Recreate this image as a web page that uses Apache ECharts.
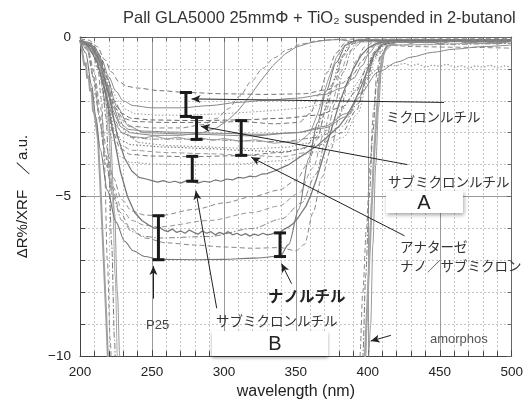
<!DOCTYPE html>
<html>
<head>
<meta charset="utf-8">
<script src="https://cdn.jsdelivr.net/npm/echarts@6/dist/echarts.min.js"></script>
<style>
  html, body { margin: 0; padding: 0; background: #fff; }
  #chart { width: 526px; height: 405px; }
</style>
</head>
<body>
<div id="chart"></div>
<script>
// Reflectance-difference spectra, each point is [wavelength nm, ΔR%/XRF]

// micron rutile
const microRutile1 = [[200,-0.05],[206,-0.1],[212,-0.3],[217,-0.7],[222,-1.1],[227,-1.4],[233,-1.55],[240,-1.6],[255,-1.68],[275,-1.74],[300,-1.78],[330,-1.8],[355,-1.78],[372,-1.65],[382,-1.45],[390,-1.15],[396,-0.75],[401,-0.4],[406,-0.2],[415,-0.1],[450,-0.08],[500,-0.1]];
const microRutile2 = [[200,-0.1],[205,-0.15],[210,-0.3],[215,-0.7],[220,-1.25],[225,-1.7],[230,-2.0],[237,-2.15],[250,-2.22],[270,-2.22],[290,-2.15],[310,-2.05],[330,-1.98],[350,-1.92],[370,-1.8],[382,-1.6],[390,-1.3],[396,-0.9],[401,-0.5],[406,-0.25],[412,-0.15],[420,-0.1],[440,-0.18],[460,-0.12],[480,-0.2],[500,-0.14]];
const microRutile3 = [[200,-0.12],[207,-0.25],[213,-0.6],[219,-1.3],[225,-1.9],[231,-2.25],[238,-2.4],[255,-2.45],[275,-2.45],[300,-2.4],[330,-2.32],[355,-2.22],[375,-2.05],[388,-1.75],[396,-1.2],[402,-0.65],[407,-0.3],[414,-0.15],[420,-0.08],[430,-0.2],[440,-0.1],[450,-0.22],[460,-0.1],[470,-0.2],[480,-0.12],[490,-0.22],[500,-0.12]];

// submicron rutile A
const subRutileA1 = [[200,-0.1],[208,-0.2],[214,-0.6],[219,-1.3],[224,-2.0],[229,-2.4],[236,-2.55],[250,-2.6],[281,-2.62],[310,-2.6],[340,-2.55],[365,-2.45],[382,-2.2],[392,-1.7],[399,-1.0],[405,-0.45],[410,-0.2],[420,-0.1],[500,-0.1]];
const subRutileA2 = [[200,-0.1],[207,-0.2],[213,-0.6],[218,-1.4],[223,-2.2],[228,-2.7],[234,-2.9],[245,-2.95],[265,-2.98],[281,-3.0],[300,-3.02],[325,-3.05],[350,-3.0],[370,-2.85],[385,-2.5],[394,-1.9],[400,-1.1],[405,-0.5],[410,-0.22],[420,-0.12],[500,-0.1]];
const subRutileA3 = [[200,-0.15],[208,-0.3],[214,-0.8],[219,-1.7],[224,-2.6],[229,-3.0],[236,-3.15],[250,-3.2],[281,-3.2],[310,-3.25],[340,-3.28],[365,-3.15],[382,-2.8],[393,-2.1],[400,-1.2],[405,-0.55],[411,-0.22],[420,-0.12],[500,-0.1]];

// nano particles with an early edge
const nanoEdge1 = [[200,-0.1],[207,-0.2],[213,-0.7],[218,-1.5],[223,-2.3],[228,-2.8],[235,-3.0],[250,-3.08],[270,-3.08],[285,-3.0],[295,-2.85],[303,-2.6],[310,-2.3],[318,-1.85],[326,-1.35],[334,-0.9],[342,-0.55],[350,-0.32],[360,-0.18],[370,-0.1],[380,-0.08],[390,-0.15],[400,-0.05],[410,-0.18],[420,-0.08],[430,-0.2],[440,-0.1],[450,-0.22],[460,-0.1],[470,-0.2],[480,-0.12],[490,-0.22],[500,-0.12]];
const nanoEdge2 = [[200,-0.08],[208,-0.2],[214,-0.7],[219,-1.5],[224,-2.2],[229,-2.6],[236,-2.8],[250,-2.85],[270,-2.85],[285,-2.75],[295,-2.55],[303,-2.25],[311,-1.85],[319,-1.4],[327,-0.98],[335,-0.65],[344,-0.4],[354,-0.22],[365,-0.12],[380,-0.07],[500,-0.05]];

// anatase nano / submicron
const anatase1 = [[200,-0.1],[208,-0.25],[214,-0.7],[219,-1.5],[224,-2.2],[230,-2.55],[238,-2.65],[260,-2.68],[290,-2.68],[312,-2.65],[335,-2.72],[352,-2.68],[360,-2.4],[366,-1.8],[372,-1.1],[378,-0.5],[384,-0.2],[392,-0.1],[500,-0.08]];
const anatase2 = [[200,-0.12],[208,-0.3],[214,-0.9],[219,-1.9],[224,-2.7],[229,-3.0],[236,-3.12],[245,-3.16],[252,-3.1],[260,-3.2],[268,-3.14],[276,-3.22],[284,-3.16],[292,-3.24],[300,-3.18],[312,-3.27],[322,-3.22],[335,-3.33],[345,-3.28],[352,-3.3],[360,-3.0],[366,-2.3],[372,-1.4],[378,-0.65],[384,-0.25],[392,-0.1],[500,-0.08]];
const anatase3 = [[200,-0.1],[208,-0.3],[214,-0.9],[219,-2.0],[224,-2.9],[229,-3.25],[236,-3.38],[260,-3.45],[290,-3.5],[312,-3.55],[340,-3.6],[356,-3.5],[363,-3.1],[369,-2.4],[375,-1.5],[381,-0.7],[387,-0.25],[395,-0.1],[500,-0.08]];
const anatase4 = [[200,-0.15],[208,-0.35],[214,-1.0],[219,-2.1],[224,-3.0],[229,-3.4],[236,-3.55],[260,-3.62],[290,-3.66],[312,-3.7],[340,-3.75],[358,-3.62],[365,-3.1],[371,-2.3],[377,-1.4],[383,-0.6],[389,-0.2],[398,-0.1],[500,-0.08]];

// submicron rutile B
const subRutileB1 = [[200,-0.1],[207,-0.3],[213,-1.0],[218,-2.1],[223,-3.0],[228,-3.5],[235,-3.68],[250,-3.73],[278,-3.75],[310,-3.72],[340,-3.62],[365,-3.4],[382,-3.0],[392,-2.3],[399,-1.4],[404,-0.7],[409,-0.3],[416,-0.15],[500,-0.12]];
const subRutileB2 = [[200,-0.12],[207,-0.3],[213,-1.1],[218,-2.3],[223,-3.25],[228,-3.75],[235,-3.93],[250,-3.98],[278,-4.0],[310,-3.98],[340,-3.88],[365,-3.6],[383,-3.15],[393,-2.4],[400,-1.4],[405,-0.7],[410,-0.3],[418,-0.15],[500,-0.12]];
const subRutileB3 = [[200,-0.1],[208,-0.3],[215,-0.9],[221,-2.0],[226,-3.1],[231,-3.8],[236,-4.2],[241,-4.4],[246,-4.45],[250,-4.5],[254,-4.55],[258,-4.5],[262,-4.56],[266,-4.52],[270,-4.58],[274,-4.5],[278,-4.53],[282,-4.58],[286,-4.52],[290,-4.55],[294,-4.48],[298,-4.52],[302,-4.45],[306,-4.48],[310,-4.4],[314,-4.42],[318,-4.36],[322,-4.38],[326,-4.3],[330,-4.28],[335,-4.2],[340,-4.1],[345,-4.0],[350,-3.85],[355,-3.7],[360,-3.55],[365,-3.4],[370,-3.2],[375,-3.0],[380,-2.8],[385,-2.5],[390,-2.1],[395,-1.6],[400,-1.0],[405,-0.5],[410,-0.25],[420,-0.15],[500,-0.12]];

// P25
const p25a = [[200,-0.1],[205,-0.3],[210,-1.1],[214,-2.2],[218,-3.4],[223,-4.4],[229,-5.1],[236,-5.45],[245,-5.58],[255,-5.6],[280,-5.4],[300,-5.2],[320,-5.0],[338,-4.8],[350,-4.5],[358,-4.0],[365,-3.2],[371,-2.2],[377,-1.3],[383,-0.55],[390,-0.2],[400,-0.1],[500,-0.08]];
const p25b = [[200,-0.1],[205,-0.35],[210,-1.3],[214,-2.5],[218,-3.7],[223,-4.7],[229,-5.4],[236,-5.75],[245,-5.9],[255,-5.95],[290,-5.75],[320,-5.5],[338,-5.3],[352,-4.9],[362,-4.1],[369,-3.1],[375,-2.1],[381,-1.1],[387,-0.45],[394,-0.15],[500,-0.1]];
const p25c = [[200,-0.1],[205,-0.4],[210,-1.4],[214,-2.7],[218,-4.0],[223,-5.0],[229,-5.75],[236,-6.1],[245,-6.25],[255,-6.3],[290,-6.25],[320,-6.0],[340,-5.7],[354,-5.2],[364,-4.3],[371,-3.2],[377,-2.1],[383,-1.1],[389,-0.4],[396,-0.15],[500,-0.1]];
const p25d = [[200,-0.1],[204,-0.5],[208,-1.5],[211,-2.5],[214,-3.5],[219,-4.8],[225,-5.8],[231,-6.4],[237,-6.7],[245,-6.88],[255,-6.97],[280,-6.98],[300,-6.97],[320,-6.93],[339,-6.87],[345,-6.5],[352,-5.4],[359,-3.8],[365,-2.7],[371,-1.7],[378,-0.8],[385,-0.25],[392,-0.1],[500,-0.1]];

// nano rutile
const nanoRutile1 = [[200,-0.1],[206,-0.3],[212,-0.8],[218,-1.8],[223,-3.0],[228,-4.2],[233,-5.0],[238,-5.5],[243,-5.75],[248,-5.9],[252,-6.0],[255,-5.95],[258,-6.05],[261,-6.1],[264,-6.02],[267,-6.12],[270,-6.08],[273,-6.15],[276,-6.05],[279,-6.12],[282,-6.18],[285,-6.08],[288,-6.15],[291,-6.1],[294,-6.2],[297,-6.12],[300,-6.18],[303,-6.1],[306,-6.2],[309,-6.15],[312,-6.22],[315,-6.16],[318,-6.24],[321,-6.18],[324,-6.22],[327,-6.15],[330,-6.2],[333,-6.18],[336,-6.12],[339,-6.12],[342,-6.02],[345,-5.95],[348,-5.85],[351,-5.7],[354,-5.5],[357,-5.3],[360,-5.0],[364,-4.5],[368,-3.9],[372,-3.3],[376,-2.7],[380,-2.1],[385,-1.5],[390,-1.0],[395,-0.6],[400,-0.35],[406,-0.2],[415,-0.12],[500,-0.1]];
const nanoRutile2 = [[200,-0.1],[205,-0.4],[209,-1.2],[213,-2.4],[217,-3.6],[222,-4.7],[228,-5.5],[235,-6.0],[245,-6.3],[260,-6.45],[280,-6.52],[300,-6.58],[320,-6.62],[339,-6.6],[350,-6.7],[356,-6.5],[362,-5.5],[368,-4.4],[374.5,-3.5],[380,-2.5],[386,-1.5],[392,-0.75],[398,-0.3],[405,-0.15],[500,-0.1]];

// slow, long-wavelength tails
const tailSolid = [[200,-0.1],[210,-0.4],[218,-1.2],[226,-2.2],[234,-2.8],[245,-3.0],[280,-3.05],[320,-3.1],[350,-3.0],[370,-2.8],[385,-2.4],[395,-1.75],[407,-1.1],[421,-0.78],[430,-0.63],[445,-0.48],[460,-0.38],[480,-0.3],[500,-0.25]];
const tailDotted = [[200,-0.2],[210,-0.5],[218,-1.3],[225,-2.3],[232,-3.0],[240,-3.3],[260,-3.4],[290,-3.45],[320,-3.5],[345,-3.45],[360,-3.3],[370,-3.0],[378,-2.6],[385,-2.1],[390,-1.75],[395,-1.45],[400,-1.25],[405,-1.05],[410,-0.95],[415,-0.88],[420,-0.9],[425,-0.82],[430,-0.9],[435,-0.85],[440,-0.95],[445,-0.88],[450,-0.92],[455,-0.85],[460,-0.95],[465,-0.9],[470,-0.98],[475,-0.9],[480,-0.95],[485,-0.88],[490,-0.97],[495,-0.9],[500,-0.95]];

// strongly absorbing samples (run past the bottom of the scale)
const deep1 = [[200,-0.1],[201,-0.3],[202,-0.35],[203,-0.9],[204,-0.8],[205,-1.3],[206,-1.2],[207,-1.7],[208,-1.6],[209,-2.3],[210,-2.4],[211,-2.7],[212.5,-3.2],[214,-4.5],[216,-6.5],[218,-8.5],[219.5,-10.2],[221,-12],[230,-14],[390,-14],[396,-12],[398,-10],[400,-8],[402,-6],[404,-4],[406,-2.5],[408,-1.3],[410,-0.6],[413,-0.3],[420,-0.15],[500,-0.12]];
const deep2 = [[200,-0.1],[208,-0.3],[212,-0.8],[215,-2],[217,-4],[219,-7],[221,-9.5],[222.5,-11],[230,-14],[388,-14],[393,-12],[394.5,-10],[396.5,-8],[399,-6],[401.5,-4],[404,-2.3],[406.5,-1.0],[409,-0.45],[415,-0.25],[430,-0.3],[460,-0.32],[500,-0.35]];
const deep3 = [[200,-0.15],[210,-0.5],[215,-1.2],[218,-2.5],[220,-4],[222,-6.5],[224,-9.5],[225.5,-12],[232,-14],[390,-14],[395,-12],[396.5,-10],[398.5,-7.5],[401,-5],[403.5,-3],[406,-1.5],[409,-0.6],[414,-0.25],[500,-0.2]];
const deep4 = [[200,-0.1],[212,-0.6],[217,-1.6],[220,-3],[222.5,-5],[224.5,-7.5],[226,-10],[227.5,-12.5],[235,-14],[390,-14],[397,-12],[398.5,-10],[400.5,-7.5],[402.5,-5.2],[405,-3],[407.5,-1.5],[410,-0.6],[415,-0.25],[500,-0.15]];
const deep5 = [[200,-0.05],[213,-0.5],[218,-1.5],[221,-3],[224,-5.5],[226,-8],[227.6,-10],[229,-12],[235,-14],[392,-14],[399,-12],[400.5,-10],[402,-9],[403.5,-6.5],[405.5,-4],[407.5,-2.2],[409.5,-1.0],[412,-0.4],[420,-0.15],[500,-0.12]];

// spread bars: [wavelength, top, bottom]
const spreadBars = [[273.6,-1.74,-2.49],[281,-2.52,-3.21],[312,-2.62,-3.71],[278,-3.74,-4.52],[254.5,-5.6,-6.98],[339,-6.14,-6.88]];

// leader arrows: [from, to]
const leaders = [
  [[453,-2.05],[277.5,-1.94]],
  [[427.5,-4.0],[284,-2.8]],
  [[425.5,-6.23],[319,-3.77]],
  [[295,-8.5],[280.5,-4.82]],
  [[347,-7.73],[340,-7.1]],
  [[251,-8.2],[251,-7.18]],
  [[416,-9.35],[402,-9.53]]
];

const xTicks = { min: 200, max: 500, step: 50 };
const yTicks = { min: -10, max: 0, step: 5 };

const LAT = '"Liberation Sans", Arial, sans-serif';
const JP = '"Noto Sans CJK JP", "Noto Sans", sans-serif';

const DASH = [5, 3], DOT = [1.5, 2], DASHDOT = [6, 2, 1.5, 2];
const curves = [
  [deep1, '#a0a0a0', 2, 'solid', false],
  [deep2, '#888', 1, DASH, true],
  [deep3, '#777', 1, DASHDOT, true],
  [deep4, '#aaa', 1, 'solid', true],
  [deep5, '#999', 1, 'solid', true],
  [microRutile1, '#777', 1, DASH, true],
  [microRutile2, '#888', 1, 'solid', true],
  [microRutile3, '#999', 1, DOT, false],
  [subRutileA1, '#666', 1, DASH, true],
  [subRutileA2, '#888', 1, 'solid', true],
  [subRutileA3, '#888', 1, DASHDOT, true],
  [nanoEdge1, '#888', 1, 'solid', false],
  [nanoEdge2, '#888', 1, DASH, true],
  [anatase1, '#777', 1, DASH, true],
  [anatase2, '#999', 1, 'solid', false],
  [anatase3, '#666', 1, DOT, true],
  [anatase4, '#999', 1, DASH, true],
  [subRutileB1, '#777', 1, DASH, true],
  [subRutileB2, '#999', 1, DOT, true],
  [subRutileB3, '#777', 1.2, 'solid', false],
  [p25a, '#888', 1, DASH, true],
  [p25b, '#999', 1, DASH, true],
  [p25c, '#888', 1, DASHDOT, true],
  [p25d, '#777', 1.1, 'solid', true],
  [nanoRutile1, '#777', 1.3, 'solid', false],
  [nanoRutile2, '#888', 1, DASH, true],
  [tailSolid, '#888', 1, 'solid', true],
  [tailDotted, '#999', 1.2, DOT, false]
];

const series = curves.map(([data, color, width, type, smooth]) => ({
  type: 'line',
  data: data,
  symbol: 'none',
  smooth: smooth ? 0.3 : false,
  smoothMonotone: 'x',
  silent: true,
  z: 2,
  lineStyle: { color: color, width: width, type: type }
}));

series.push({
  type: 'custom',
  silent: true,
  z: 10,
  clip: false,
  data: spreadBars,
  encode: { x: 0, y: [1, 2] },
  renderItem: function (params, api) {
    const x = api.value(0);
    const a = api.coord([x, api.value(1)]);
    const b = api.coord([x, api.value(2)]);
    const w = 6;
    const st = { stroke: '#1a1a1a', lineWidth: 3 };
    return {
      type: 'group',
      children: [
        { type: 'line', shape: { x1: a[0], y1: a[1], x2: b[0], y2: b[1] }, style: st },
        { type: 'line', shape: { x1: a[0] - w, y1: a[1], x2: a[0] + w, y2: a[1] }, style: st },
        { type: 'line', shape: { x1: b[0] - w, y1: b[1], x2: b[0] + w, y2: b[1] }, style: st }
      ]
    };
  },
  markLine: {
    silent: true,
    symbol: ['none', 'arrow'],
    symbolSize: [6, 9],
    label: { show: false },
    lineStyle: { color: '#222', width: 1, type: 'solid' },
    emphasis: { disabled: true },
    data: leaders.map(l => [{ coord: l[0] }, { coord: l[1] }])
  }
});

const minusFmt = v => (v < 0 ? '\u2212' + (-v) : String(v));

const baseX = {
  type: 'value', min: xTicks.min, max: xTicks.max, interval: xTicks.step
};
const baseY = {
  type: 'value', min: yTicks.min, max: yTicks.max, interval: yTicks.step
};

const txt = (x, y, text, font, fill, align) => ({
  type: 'text', x: x, y: y, z: 100, silent: true,
  style: { text: text, font: font, fill: fill || '#333', align: align || 'left', verticalAlign: 'middle' }
});

const option = {
  animation: false,
  backgroundColor: '#fff',
  grid: { left: 80, right: 11, top: 37, bottom: 47 },
  xAxis: [
    Object.assign({}, baseX, {
      position: 'bottom',
      axisLine: { show: true, onZero: false, lineStyle: { color: '#444', width: 1 } },
      axisTick: { show: true, inside: true, length: 6, lineStyle: { color: '#444' } },
      minorTick: { show: true, splitNumber: 5, length: 5, lineStyle: { color: '#444' } },
      axisLabel: { color: '#222', fontSize: 13.5, fontFamily: LAT, margin: 9 },
      splitLine: { show: true, lineStyle: { color: '#9a9a9a', width: 1 } },
      minorSplitLine: { show: true, lineStyle: { color: '#c4c4c4', width: 1, type: [2, 2] } },
      name: 'wavelength (nm)', nameLocation: 'middle', nameGap: 23,
      nameTextStyle: { color: '#222', fontSize: 16, fontFamily: LAT }
    }),
    Object.assign({}, baseX, {
      position: 'top',
      axisLine: { show: true, onZero: false, lineStyle: { color: '#666', width: 1 } },
      axisTick: { show: true, inside: true, length: 5, lineStyle: { color: '#666' } },
      minorTick: { show: true, splitNumber: 5, length: 4, lineStyle: { color: '#666' } },
      axisLabel: { show: false },
      splitLine: { show: false }
    })
  ],
  yAxis: [
    Object.assign({}, baseY, {
      position: 'left',
      axisLine: { show: true, onZero: false, lineStyle: { color: '#444', width: 1 } },
      axisTick: { show: true, inside: true, length: 6, lineStyle: { color: '#444' } },
      minorTick: { show: true, splitNumber: 5, length: 5, lineStyle: { color: '#444' } },
      axisLabel: { color: '#222', fontSize: 13.5, fontFamily: LAT, margin: 9, formatter: minusFmt },
      splitLine: { show: true, lineStyle: { color: '#9a9a9a', width: 1 } },
      minorSplitLine: { show: true, lineStyle: { color: '#c4c4c4', width: 1, type: [2, 2] } },
      name: '\u0394R%/XRF\u3000\uff0fa.u.', nameLocation: 'middle', nameGap: 50,
      nameTextStyle: { color: '#222', fontSize: 15, fontFamily: LAT }
    }),
    Object.assign({}, baseY, {
      position: 'right',
      axisLine: { show: true, onZero: false, lineStyle: { color: '#666', width: 1 } },
      axisTick: { show: true, inside: true, length: 5, lineStyle: { color: '#666' } },
      minorTick: { show: true, splitNumber: 5, length: 4, lineStyle: { color: '#666' } },
      axisLabel: { show: false },
      splitLine: { show: false }
    })
  ],
  series: series,
  graphic: [
    txt(123, 18, 'Pall GLA5000 25mm\u03a6 + TiO\u2082 suspended in 2-butanol', '16.5px ' + LAT, '#333'),
    txt(386, 117, 'ミクロンルチル', '13.5px ' + JP),
    txt(388, 182, 'サブミクロンルチル', '13.5px ' + JP),
    {
      type: 'rect', z: 99, silent: true,
      shape: { x: 386, y: 191, width: 77, height: 22 },
      style: { fill: '#fff', shadowBlur: 4, shadowColor: 'rgba(0,0,0,0.35)', shadowOffsetX: 1, shadowOffsetY: 2 }
    },
    txt(424, 203, 'A', '20px ' + LAT, '#222', 'center'),
    txt(400, 247, 'アナターゼ', '13.5px ' + JP),
    txt(400, 266, 'ナノ／サブミクロン', '13.5px ' + JP),
    txt(268, 296, 'ナノルチル', 'bold 15.5px ' + JP, '#222'),
    txt(146, 325, 'P25', '13px ' + LAT, '#444'),
    txt(216, 321, 'サブミクロンルチル', '13.5px ' + JP),
    {
      type: 'rect', z: 99, silent: true,
      shape: { x: 212, y: 331, width: 116, height: 25 },
      style: { fill: '#fff', shadowBlur: 3, shadowColor: 'rgba(0,0,0,0.35)', shadowOffsetX: 0, shadowOffsetY: 2 }
    },
    txt(275, 344, 'B', '20px ' + LAT, '#222', 'center'),
    txt(430, 339, 'amorphos', '13px ' + LAT, '#555')
  ]
};

const chart = echarts.init(document.getElementById('chart'), null, { renderer: 'canvas' });
chart.setOption(option);
</script>
</body>
</html>
